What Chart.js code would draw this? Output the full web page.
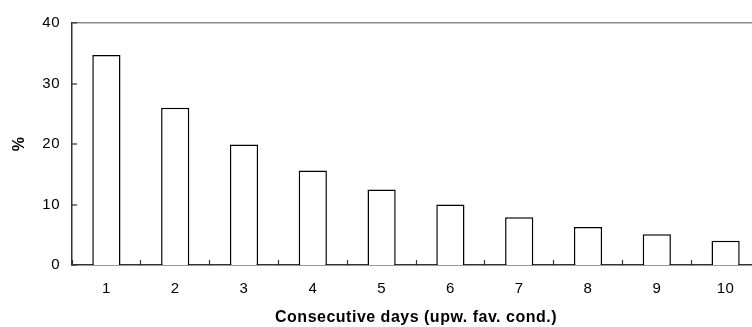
<!DOCTYPE html>
<html>
<head>
<meta charset="utf-8">
<script src="https://cdn.jsdelivr.net/npm/chart.js@4/dist/chart.umd.min.js"></script>
<style>
html,body{margin:0;padding:0;background:#fff;overflow:hidden;width:752px;height:327px;}
canvas{display:block;}
</style>
</head>
<body>
<canvas id="c" width="760" height="327"></canvas>
<script>
const categories = ["1","2","3","4","5","6","7","8","9","10"];
const percentValues = [34.7, 26.0, 19.9, 15.6, 12.5, 10.0, 7.9, 6.3, 5.1, 4.0];
const yTickValues = [0, 10, 20, 30, 40];
const xTitle = "Consecutive days (upw. fav. cond.)";
const yTitle = "%";

const axisColor = "#333333";
Chart.defaults.font.family = "'Liberation Sans', Arial, sans-serif";
Chart.defaults.color = "#000";

const letterSpacingPlugin = {
  id: "letterSpacing",
  beforeDraw(chart) { chart.ctx.letterSpacing = "0.5px"; }
};

new Chart(document.getElementById("c"), {
  type: "bar",
  data: {
    labels: categories,
    datasets: [{
      data: percentValues,
      backgroundColor: "#ffffff",
      borderColor: "#000000",
      borderWidth: 1.5,
      barPercentage: 0.41,
      categoryPercentage: 1.0
    }]
  },
  plugins: [letterSpacingPlugin],
  options: {
    responsive: false,
    animation: false,
    devicePixelRatio: 1,
    layout: { padding: { top: 23, right: 0, bottom: 0, left: 0 } },
    plugins: { legend: { display: false }, tooltip: { enabled: false } },
    scales: {
      x: {
        grid: { display: true, drawOnChartArea: false, offset: true, tickLength: -5, tickColor: axisColor, tickWidth: 1.2 },
        border: { display: true, color: axisColor, width: 1.5 },
        ticks: { padding: 20, font: { size: 15 }, color: "#000", maxRotation: 0 },
        title: { display: true, text: xTitle, font: { size: 16, weight: "bold" }, color: "#000", padding: { top: 0, bottom: 0 } },
        afterFit(s) { s.height = 62; }
      },
      y: {
        min: 0, max: 40,
        afterBuildTicks(s) { s.ticks = yTickValues.map(v => ({ value: v })); },
        grid: {
          display: true,
          drawOnChartArea: true,
          tickLength: -5,
          tickColor: axisColor,
          tickWidth: 1.2,
          color: (ctx) => (ctx.tick && ctx.tick.value === 40) ? "#8c8c8c" : "rgba(0,0,0,0)",
          lineWidth: (ctx) => (ctx.tick && ctx.tick.value === 40) ? 1.6 : 0
        },
        border: { display: true, color: axisColor, width: 1.5 },
        ticks: { padding: 17, font: { size: 15 }, color: "#000" },
        title: { display: true, text: yTitle, font: { size: 16, weight: "bold" }, color: "#000", padding: { top: 10, bottom: 0 } },
        afterFit(s) { s.width = 72; s.paddingTop = 0; s.paddingBottom = 0; }
      }
    }
  }
});
</script>
</body>
</html>
